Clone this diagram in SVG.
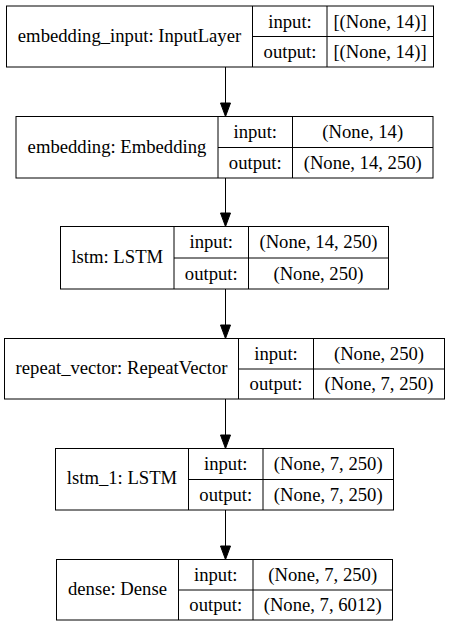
<svg xmlns="http://www.w3.org/2000/svg" width="449" height="627" viewBox="0 0 449 627">
<style>
.b{fill:none;stroke:#000;stroke-width:1}
.t{font-family:'Liberation Serif','Times New Roman',Times,serif;font-size:18.67px;fill:#000;text-anchor:middle}
.c{stroke:#000;stroke-width:1;fill:none}
.h{fill:#000;stroke:#000;stroke-width:1}
</style>
<rect width="449" height="627" fill="#fff"/>
<g id="connectors">
<path class="c" d="M225.5,67V103"/><polygon class="h" points="220.5,103 230.5,103 225.5,116.5"/>
<path class="c" d="M225.5,178V213"/><polygon class="h" points="220.5,213 230.5,213 225.5,226.5"/>
<path class="c" d="M225.5,289V325"/><polygon class="h" points="220.5,325 230.5,325 225.5,338.5"/>
<path class="c" d="M225.5,399V435"/><polygon class="h" points="220.5,435 230.5,435 225.5,448.5"/>
<path class="c" d="M225.5,510V546"/><polygon class="h" points="220.5,546 230.5,546 225.5,559.5"/>
</g>
<g class="t" font-family="Liberation Serif, Times New Roman, serif">
<g id="embedding_input">
<rect class="b" x="6.5" y="6" width="427" height="61"/>
<path class="b" d="M252.5,6V67M327,6V67M252.5,36.5H433.5"/>
<text x="129.5" y="41.5">embedding_input: InputLayer</text>
<text x="290" y="27.5">input:</text>
<text x="290" y="58">output:</text>
<text x="380" y="27.5">[(None, 14)]</text>
<text x="380" y="58">[(None, 14)]</text>
</g>
<g id="embedding">
<rect class="b" x="16" y="116.5" width="417" height="61.5"/>
<path class="b" d="M218,116.5V178M292.5,116.5V178M218,147.5H433"/>
<text x="117" y="152.5">embedding: Embedding</text>
<text x="255.25" y="138">input:</text>
<text x="255.25" y="168.75">output:</text>
<text x="362.75" y="138">(None, 14)</text>
<text x="362.75" y="168.75">(None, 14, 250)</text>
</g>
<g id="lstm">
<rect class="b" x="60.5" y="226.5" width="328" height="62.5"/>
<path class="b" d="M174,226.5V289M248.5,226.5V289M174,258H388.5"/>
<text x="117.25" y="262.75">lstm: LSTM</text>
<text x="211.25" y="248.25">input:</text>
<text x="211.25" y="279.5">output:</text>
<text x="318.5" y="248.25">(None, 14, 250)</text>
<text x="318.5" y="279.5">(None, 250)</text>
</g>
<g id="repeat_vector">
<rect class="b" x="4.5" y="338.5" width="440" height="60.5"/>
<path class="b" d="M238.5,338.5V399M313.5,338.5V399M238.5,369H444.5"/>
<text x="121.5" y="373.75">repeat_vector: RepeatVector</text>
<text x="276" y="359.75">input:</text>
<text x="276" y="390">output:</text>
<text x="379" y="359.75">(None, 250)</text>
<text x="379" y="390">(None, 7, 250)</text>
</g>
<g id="lstm_1">
<rect class="b" x="55.5" y="448.5" width="338" height="61.5"/>
<path class="b" d="M188.5,448.5V510M263,448.5V510M188.5,479.5H393.5"/>
<text x="122" y="484.25">lstm_1: LSTM</text>
<text x="225.75" y="470">input:</text>
<text x="225.75" y="500.75">output:</text>
<text x="328.25" y="470">(None, 7, 250)</text>
<text x="328.25" y="500.75">(None, 7, 250)</text>
</g>
<g id="dense">
<rect class="b" x="56.5" y="559.5" width="336" height="60.5"/>
<path class="b" d="M178.5,559.5V620M253,559.5V620M178.5,590H392.5"/>
<text x="117.5" y="594.75">dense: Dense</text>
<text x="215.75" y="580.75">input:</text>
<text x="215.75" y="611">output:</text>
<text x="322.75" y="580.75">(None, 7, 250)</text>
<text x="322.75" y="611">(None, 7, 6012)</text>
</g>
</g>
</svg>
